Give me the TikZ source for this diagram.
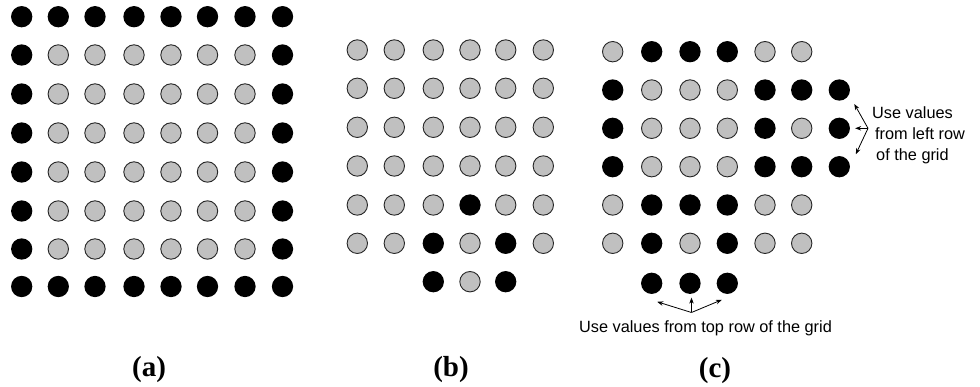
\documentclass[tikz,border=0pt]{standalone}
\usepackage{fontspec}
\setmainfont{Liberation Serif}
\newfontfamily\arialf{Liberation Sans}
\usetikzlibrary{arrows.meta,calc}
\definecolor{dotgray}{RGB}{192,192,192}
% #1 prefix, #2 row index, #3 y, #4 list of x, #5 pattern (g grey, b black, n none)
\newcommand\pixrow[5]{%
  \foreach \c [count=\i from 0] in {#5}{%
    \if\c n\else
      \pgfmathsetmacro\xx{{#4}[\i]}%
      \node[dot\c] (#1-#2-\i) at (\xx,#3) {};%
    \fi}}
\begin{document}
\begin{tikzpicture}[x=1pt,y=-1pt,
  dotg/.style={circle,inner sep=0pt,minimum size=20.4pt,fill=dotgray,draw=black!85,line width=0.9pt},
  dotb/.style={circle,inner sep=0pt,minimum size=21.3pt,fill=black},
  note/.style={font=\arialf\fontsize{16.3}{19}\selectfont,inner sep=0pt},
  captext/.style={font=\bfseries\fontsize{29}{34}\selectfont,inner sep=0pt},
  pointer/.style={line width=0.8pt,-{Stealth[length=6pt,width=4.5pt]}}]
\useasboundingbox (0,0) rectangle (980,387);

% ---------- (a)
\def\ax{21.7,58.3,95,134,171,207.5,245,282.5}
\pixrow{a}{0}{16.7}{\ax}{b,b,b,b,b,b,b,b}
\pixrow{a}{1}{55}{\ax}{b,g,g,g,g,g,g,b}
\pixrow{a}{2}{94}{\ax}{b,g,g,g,g,g,g,b}
\pixrow{a}{3}{133}{\ax}{b,g,g,g,g,g,g,b}
\pixrow{a}{4}{172}{\ax}{b,g,g,g,g,g,g,b}
\pixrow{a}{5}{211}{\ax}{b,g,g,g,g,g,g,b}
\pixrow{a}{6}{249}{\ax}{b,g,g,g,g,g,g,b}
\pixrow{a}{7}{286.5}{\ax}{b,b,b,b,b,b,b,b}

% ---------- (b)
\def\bx{357.3,394.3,433.3,470,505.7,543.3}
\pixrow{b}{0}{50}{\bx}{g,g,g,g,g,g}
\pixrow{b}{1}{88.3}{\bx}{g,g,g,g,g,g}
\pixrow{b}{2}{127.3}{\bx}{g,g,g,g,g,g}
\pixrow{b}{3}{166}{\bx}{g,g,g,g,g,g}
\pixrow{b}{4}{205}{\bx}{g,g,g,b,g,g}
\pixrow{b}{5}{243.3}{\bx}{g,g,b,g,b,g}
\pixrow{b}{6}{281.7}{\bx}{n,n,b,g,b}

% ---------- (c)
\def\cx{612.7,651.7,690,727.3,765,801.7,839.3}
\pixrow{c}{0}{51.7}{\cx}{g,b,b,b,g,g}
\pixrow{c}{1}{90}{\cx}{b,g,g,g,b,b,b}
\pixrow{c}{2}{128.3}{\cx}{b,g,g,g,b,g,b}
\pixrow{c}{3}{166.7}{\cx}{b,g,g,g,b,b,b}
\pixrow{c}{4}{205}{\cx}{g,b,b,b,g,g}
\pixrow{c}{5}{243.3}{\cx}{g,b,g,b,g,g}
\pixrow{c}{6}{283.3}{\cx}{n,b,b,b}

% ---------- right annotation
\coordinate (hubR) at (868,128.3);
\draw[pointer] (hubR) -- ($(c-1-6)+(15,14)$);
\draw[pointer] (hubR) -- ($(c-2-6.east)+(5,0)$);
\draw[pointer] (hubR) -- ($(c-3-6)+(16.5,-12.5)$);
\node[note,anchor=base west] (lt1) at (872,119) {Use values};
\node[note,anchor=base west] (lt2) at (875,140) {from left row};
\node[note,anchor=base west] (lt3) at (876,161) {of the grid};

% ---------- bottom annotation
\coordinate (hubB) at (691.5,312.5);
\draw[pointer] (hubB) -- ($(c-6-1)+(5.5,18.5)$);
\draw[pointer] (hubB) -- ($(hubB|-c-6-2.south)+(0,3.5)$);
\draw[pointer] (hubB) -- ($(c-6-3)+(-5.5,16.5)$);
\node[note,anchor=base] (bt) at (705.5,333) {Use values from top row of the grid};

% ---------- captions
\node[captext] (capa) at (149,370) {(a)};
\node[captext] (capb) at (451,370) {(b)};
\node[captext] (capc) at (715,371) {(c)};
\end{tikzpicture}
\end{document}
